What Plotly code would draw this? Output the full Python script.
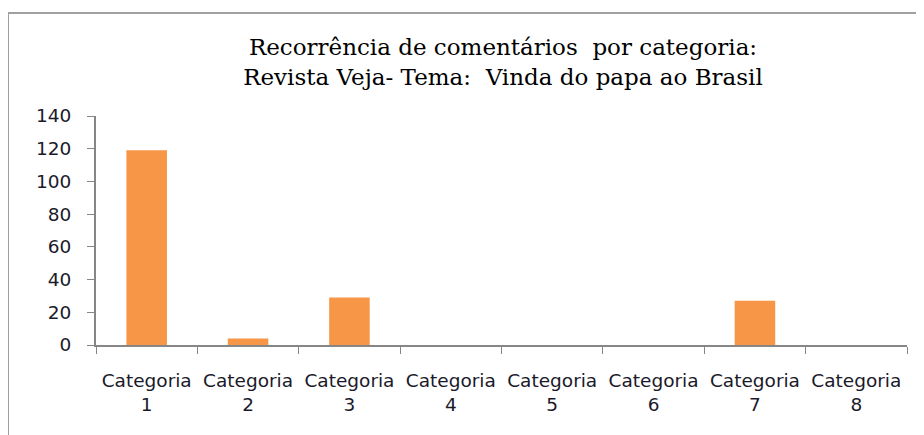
import plotly.graph_objects as go

categories = ["Categoria<br>1", "Categoria<br>2", "Categoria<br>3", "Categoria<br>4",
              "Categoria<br>5", "Categoria<br>6", "Categoria<br>7", "Categoria<br>8"]
values = [119, 4, 29, 0, 0, 0, 27, 0]
y_ticks = [0, 20, 40, 60, 80, 100, 120, 140]
title_lines = ["Recorrência de comentários  por categoria:",
               "Revista Veja- Tema:  Vinda do papa ao Brasil"]

fig = go.Figure(go.Bar(x=categories, y=values, marker_color="#F79646",
                       marker_line_width=0, width=0.4))

# page body has an 8px margin: figure origin sits at (8, 8) in the window
W, H = 916, 427
axis_font = dict(family="DejaVu Sans", size=18.5, color="#1a1a2a")
fig.update_layout(
    width=W, height=H,
    margin=dict(l=88, r=17, t=108, b=90, autoexpand=False),
    paper_bgcolor="white", plot_bgcolor="white",
    showlegend=False,
    title=dict(text="<br>".join(title_lines), x=(503-8)/W, xanchor="center",
               y=1-47/H, yanchor="top",
               font=dict(family="DejaVu Serif", size=23, color="#000")),
    xaxis=dict(type="category", tickson="boundaries", ticks="outside", ticklen=7,
               tickcolor="#868686", showline=True, linecolor="#868686", linewidth=2,
               showgrid=False, tickfont=axis_font, ticklabelstandoff=18,
               automargin=False),
    yaxis=dict(range=[0, 140], tickvals=y_ticks, ticks="outside", ticklen=7,
               tickcolor="#868686", showline=True, linecolor="#868686", linewidth=2,
               showgrid=False, zeroline=False, tickfont=axis_font, ticklabelstandoff=12,
               automargin=False),
    shapes=[dict(type="rect", xref="paper", yref="paper",
                 x0=(8-96)/811, x1=(940-96)/811, y0=(345-450)/229, y1=(345-13)/229,
                 line=dict(color="#A0A0A0", width=2), fillcolor="rgba(0,0,0,0)",
                 layer="below")],
)
fig.write_html("out.html")
